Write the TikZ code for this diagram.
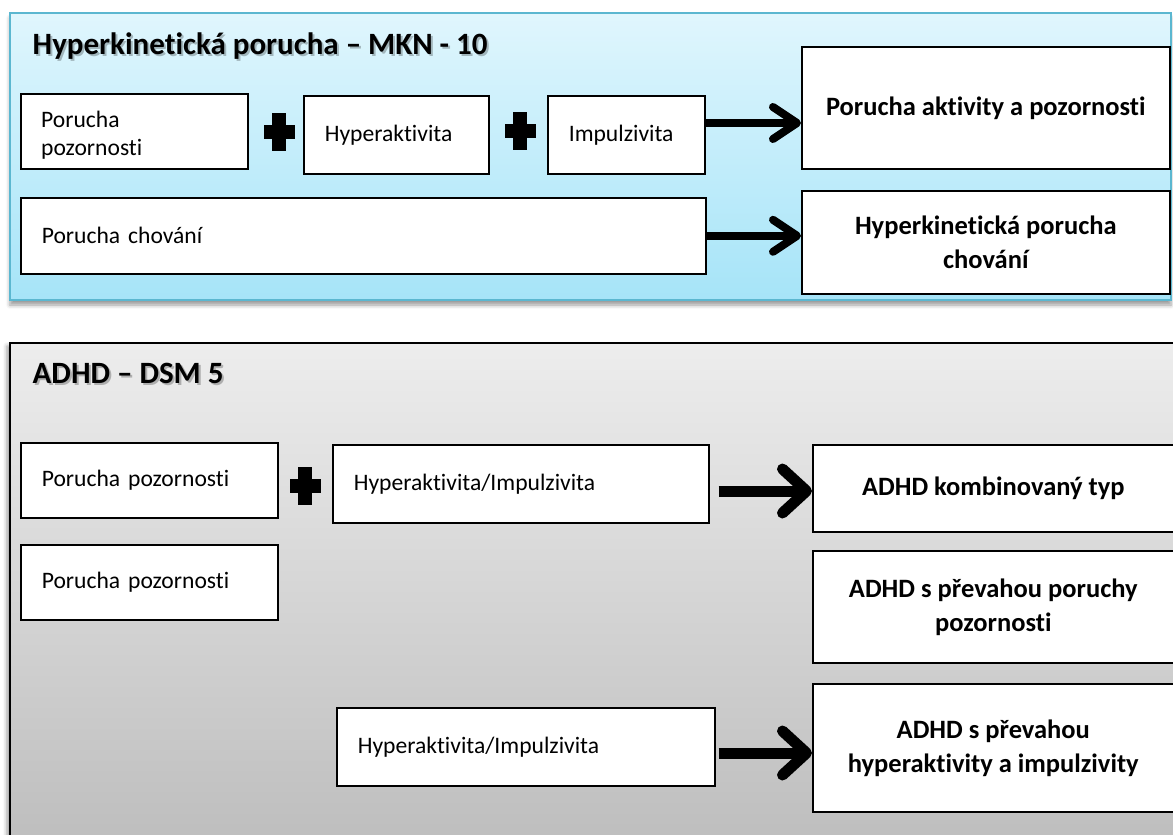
\documentclass[tikz,border=0pt]{standalone}
\usepackage{fontspec}
\setmainfont{Carlito}[Ligatures=NoCommon]
\usetikzlibrary{arrows.meta,shadows.blur}
\newcommand\myBody{\fontsize{23.6}{28}\selectfont}
\newcommand\myBold{\fontsize{26.5}{34}\selectfont\bfseries}
\newcommand\myTitle{\fontsize{31}{36}\selectfont\bfseries}
\definecolor{cyanTop}{HTML}{E0F6FD}
\definecolor{cyanBot}{HTML}{A6E4F8}
\definecolor{cyanEdge}{HTML}{5BB7D0}
\definecolor{greyTop}{HTML}{EDEDED}
\definecolor{greyBot}{HTML}{BDBDBD}
\tikzset{
  lbox/.style={draw=black, fill=white, line width=1.6pt, inner xsep=21pt, inner ysep=0pt,
    align=left, font=\myBody, anchor=north west},
  rbox/.style={draw=black, fill=white, line width=1.6pt, inner sep=0pt,
    align=center, font=\myBold, anchor=north west},
  ltext/.style={anchor=base west, inner sep=0pt, align=left, font=\myBody},
  ttl/.style={anchor=base west, inner sep=0pt, font=\myTitle},
  ttlshadow/.style={ttl, text=black, opacity=0.25},
  arrsmall/.style={line width=8pt, -{Straight Barb[length=24pt,width=32pt,round]}},
  arrbig/.style={line width=11pt, -{Straight Barb[length=24pt,width=44pt,round]}},
  plussign/.pic={\fill (-15.5,-6.8) rectangle (15.5,6.8); \fill (-6.8,-19) rectangle (6.8,19);}
}
\begin{document}
\begin{tikzpicture}[x=1pt,y=-1pt]
\useasboundingbox (0,0) rectangle (1173,835);
\clip (0,0) rectangle (1173,835);
% panels
\path[top color=cyanTop, bottom color=cyanBot, draw=cyanEdge, line width=2pt,
  blur shadow={shadow xshift=0pt, shadow yshift=-5pt, shadow blur radius=4pt}]
  (10,13) rectangle (1171,300);
\path[top color=greyTop, bottom color=greyBot, draw=black, line width=2pt,
  blur shadow={shadow xshift=-3pt, shadow yshift=-3pt, shadow blur radius=4pt}]
  (10,343) rectangle (1190,850);
% titles
\node[ttlshadow] (t1s) at (34.5,56) {Hyperkinetická porucha – MKN - 10};
\node[ttl] (t1) at (32.5,54) {Hyperkinetická porucha – MKN - 10};
\node[ttlshadow] (t2s) at (34.5,385) {ADHD – DSM 5};
\node[ttl] (t2) at (32.5,383) {ADHD – DSM 5};
% top panel boxes
\node[lbox, text width=185pt, minimum height=75pt] (a1) at (20,93) {};
\node[ltext] (a1t) at (41,155) {Porucha\\pozornosti};
\node[lbox, text width=143pt, minimum height=78pt] (a2) at (303,95) {Hyperaktivita};
\node[lbox, text width=115pt, minimum height=78pt] (a3) at (547,95) {Impulzivita};
\node[lbox, text width=643pt, minimum height=76pt] (a4) at (20,197) {Porucha chování};
\node[rbox, minimum width=368pt, minimum height=122pt] (r1) at (801,46) {Porucha aktivity a pozornosti};
\node[rbox, minimum width=368pt, minimum height=103pt] (r2) at (801,190) {Hyperkinetická porucha\\chování};
\pic at (279,132) {plussign};
\pic at (520,131) {plussign};
\draw[arrsmall] (a3.east |- 0,123) -- (r1.west |- 0,123);
\draw[arrsmall] (a4.east) -- (r2.west |- a4.east);
% bottom panel boxes
\node[lbox, text width=215pt, minimum height=75pt] (b1) at (20,442) {Porucha pozornosti};
\node[lbox, text width=334pt, minimum height=78pt] (b2) at (332,444) {Hyperaktivita/Impulzivita};
\node[lbox, text width=215pt, minimum height=75pt] (b3) at (20,544) {Porucha pozornosti};
\node[lbox, text width=336pt, minimum height=78pt] (b4) at (336,707) {Hyperaktivita/Impulzivita};
\node[rbox, minimum width=361pt, minimum height=87pt] (s1) at (812,444) {ADHD kombinovaný typ};
\node[rbox, minimum width=361pt, minimum height=112pt] (s2) at (812,550) {ADHD s převahou poruchy\\pozornosti};
\node[rbox, minimum width=361pt, minimum height=128pt] (s3) at (812,683) {ADHD s převahou\\hyperaktivity a impulzivity};
\pic at (305,486) {plussign};
\draw[arrbig] ([xshift=9pt]b2.east |- 0,491) -- (s1.west |- 0,491);
\draw[arrbig] ([xshift=3pt]b4.east |- 0,753) -- (s3.west |- 0,753);
\end{tikzpicture}
\end{document}
